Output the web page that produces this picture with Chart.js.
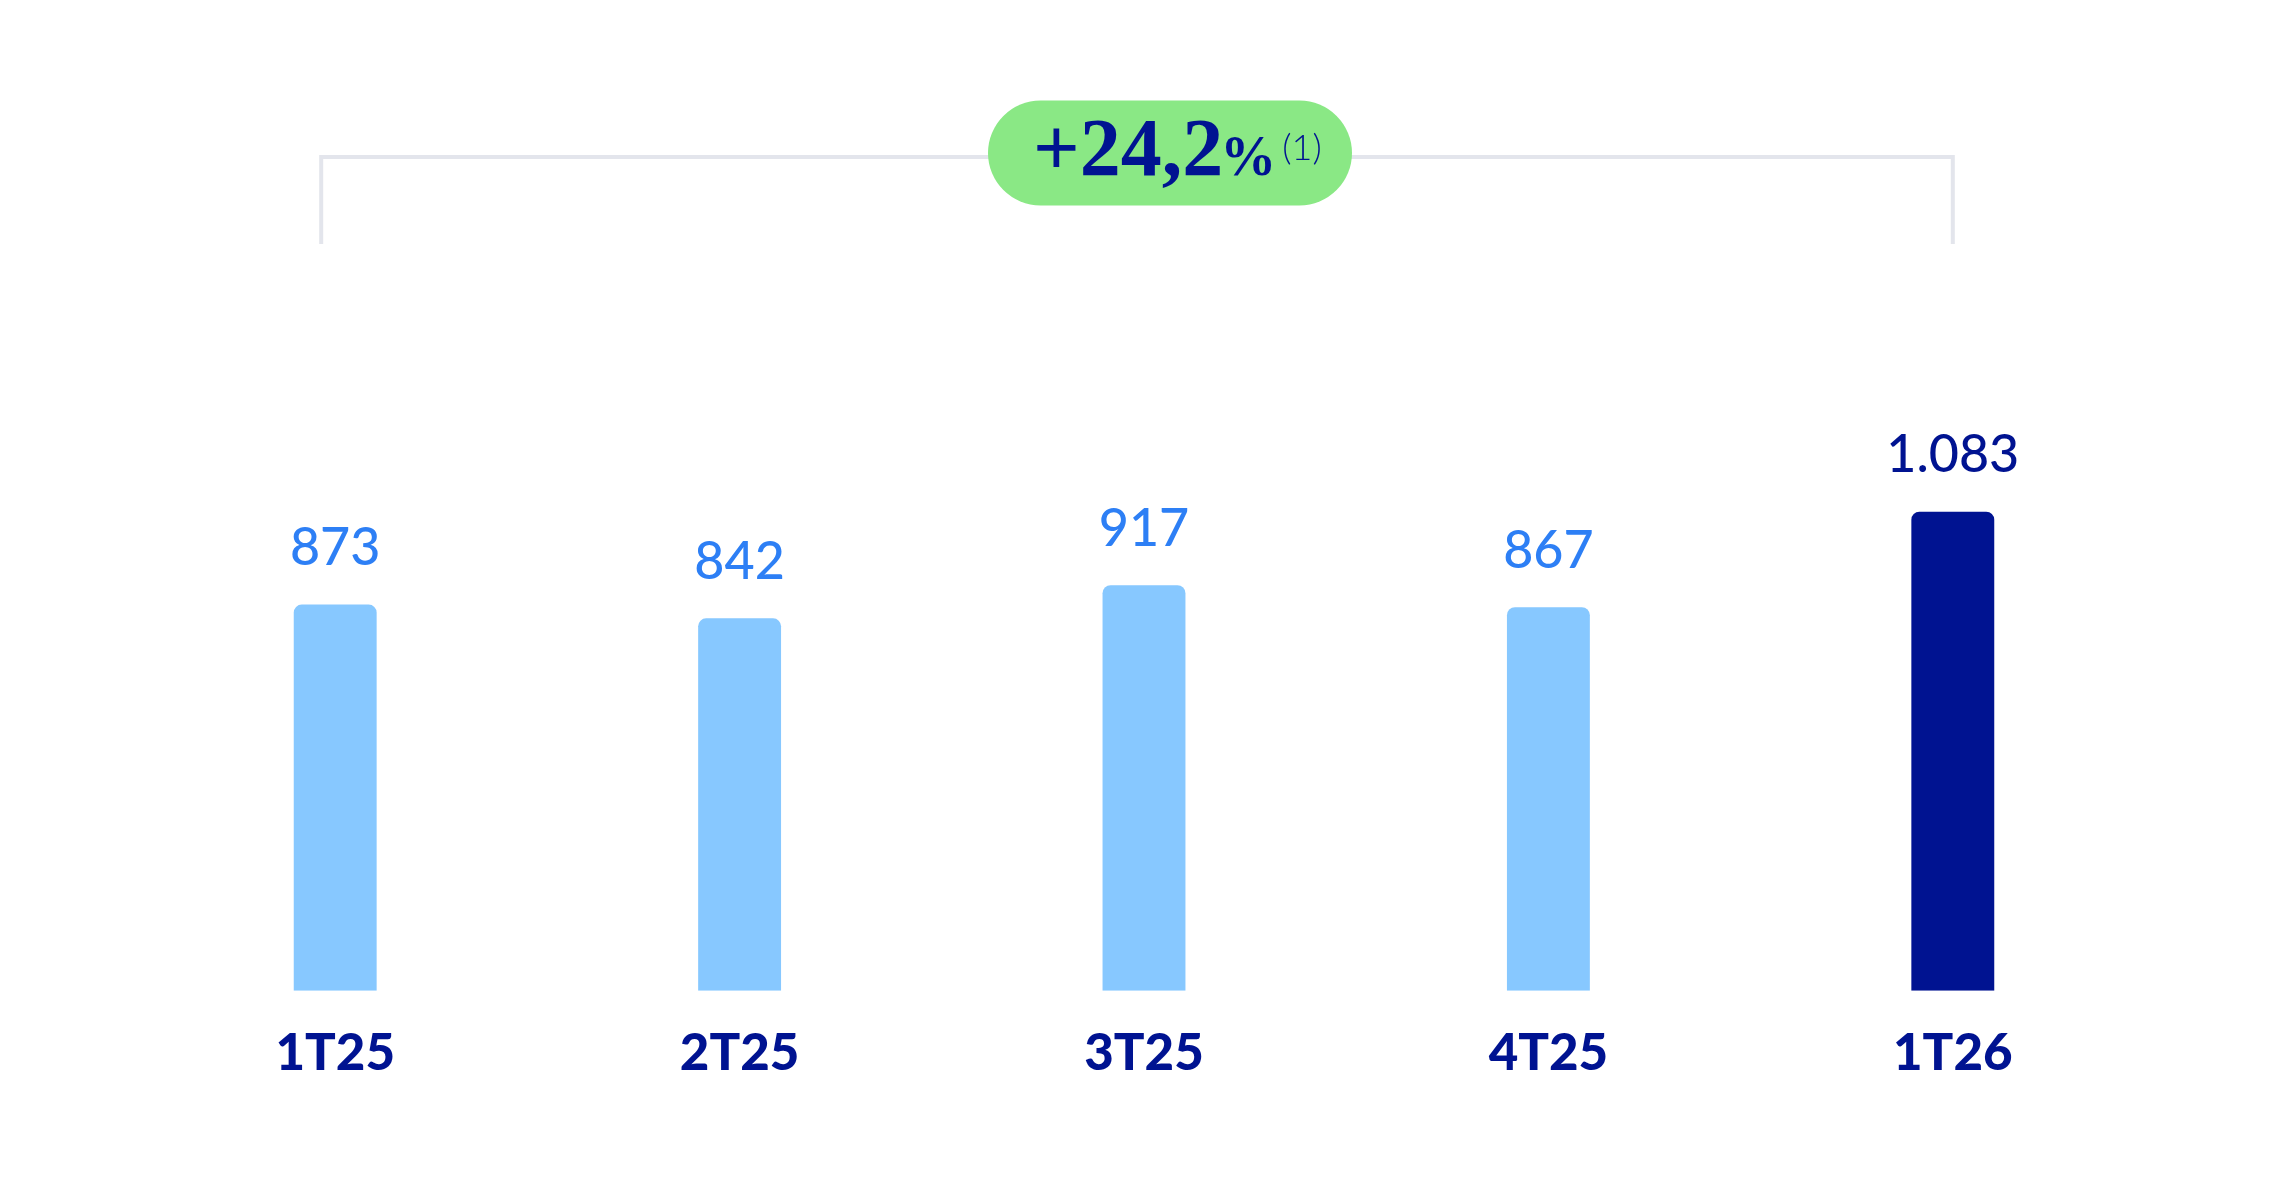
<!DOCTYPE html>
<html>
<head>
<meta charset="utf-8">
<script src="https://cdn.jsdelivr.net/npm/chart.js@4.4.1/dist/chart.umd.min.js"></script>
<style>
  html, body { margin: 0; padding: 0; background: #ffffff; }
  #wrap { width: 2292px; height: 1188px; }
</style>
</head>
<body>
<div id="wrap"><canvas id="myChart" width="2292" height="1188"></canvas></div>
<script>
// data
const quarters = ['1T25', '2T25', '3T25', '4T25', '1T26'];
const values = [873, 842, 917, 867, 1083];
const valueLabels = ['873', '842', '917', '867', '1.083'];
const barColors = ['#87C8FF', '#87C8FF', '#87C8FF', '#87C8FF', '#001391'];
const labelColors = ['#2D7FF5', '#2D7FF5', '#2D7FF5', '#2D7FF5', '#001391'];
const growthText = '+24,2';
const growthNote = '(1)';

const navy = '#001391';

// numbers above the bars
const valuePlugin = {
  id: 'valueLabels',
  afterDatasetsDraw(chart) {
    const ctx = chart.ctx;
    const meta = chart.getDatasetMeta(0);
    ctx.save();
    ctx.font = '500 52px Lato';
    ctx.textAlign = 'center';
    ctx.textBaseline = 'middle';
    meta.data.forEach((bar, i) => {
      ctx.fillStyle = labelColors[i];
      ctx.fillText(valueLabels[i], bar.x, bar.y - 56);
    });
    ctx.restore();
  }
};

// bracket + green pill with the growth figure
const badgePlugin = {
  id: 'badge',
  afterDraw(chart) {
    const ctx = chart.ctx;
    const xs = chart.scales.x;
    const x1 = xs.getPixelForValue(0) - 14;
    const x2 = xs.getPixelForValue(quarters.length - 1);
    const top = 157, down = 244;

    ctx.save();
    ctx.strokeStyle = '#E3E5EC';
    ctx.lineWidth = 4;
    ctx.beginPath();
    ctx.moveTo(x1, down);
    ctx.lineTo(x1, top);
    ctx.lineTo(x2, top);
    ctx.lineTo(x2, down);
    ctx.stroke();

    // pill
    const cx = 1170, cy = 153, w = 364, h = 105, r = h / 2;
    ctx.fillStyle = '#8AE885';
    ctx.beginPath();
    ctx.roundRect(cx - w / 2, cy - h / 2, w, h, r);
    ctx.fill();

    // text
    ctx.fillStyle = navy;
    ctx.textBaseline = 'alphabetic';
    ctx.textAlign = 'left';
    ctx.font = '700 82px "Liberation Serif"';
    let tx = 1033;
    const base = 175;
    ctx.fillText(growthText, tx, base);
    tx += ctx.measureText(growthText).width - 3;
    ctx.font = '700 56px "Liberation Serif"';
    ctx.fillText('%', tx, base);
    tx += ctx.measureText('%').width + 6;
    ctx.font = '300 36px Lato';
    ctx.fillText(growthNote, tx, 160);
    ctx.restore();
  }
};

const ctx = document.getElementById('myChart').getContext('2d');
const myChart = new Chart(ctx, {
  type: 'bar',
  data: {
    labels: quarters,
    datasets: [{
      data: values,
      backgroundColor: barColors,
      borderRadius: 8,
      barPercentage: 0.205,
      categoryPercentage: 1
    }]
  },
  options: {
    responsive: false,
    animation: false,
    devicePixelRatio: 1,
    layout: {
      padding: { left: 133, right: 137, top: 283, bottom: 72 }
    },
    plugins: {
      legend: { display: false },
      tooltip: { enabled: false }
    },
    scales: {
      x: {
        grid: { display: false, drawTicks: false },
        border: { display: false },
        ticks: {
          color: navy,
          padding: 32,
          font: { family: 'Lato', weight: '900', size: 51 }
        }
      },
      y: {
        display: false,
        min: 0,
        max: 1600
      }
    }
  },
  plugins: [valuePlugin, badgePlugin]
});
</script>
</body>
</html>
